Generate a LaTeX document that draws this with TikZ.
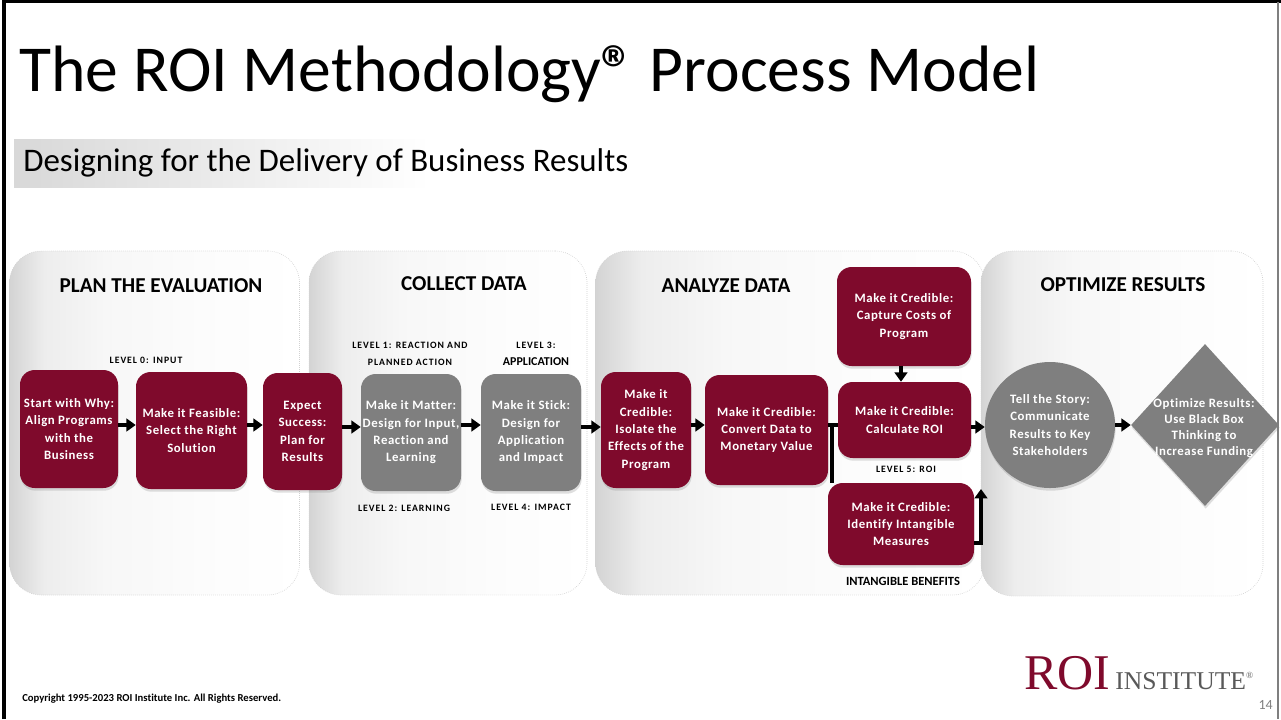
\documentclass[tikz,border=0pt]{standalone}
\usepackage{fontspec}
\setmainfont[Ligatures=CommonOff]{Carlito}
\newfontfamily\logofont{Liberation Serif}
\newfontfamily\boxfont[LetterSpace=4.5,Ligatures=CommonOff]{Carlito}
\newfontfamily\spacedfont[LetterSpace=10,Ligatures=CommonOff]{Carlito}
\usetikzlibrary{arrows.meta,shadows,shapes.geometric}
\definecolor{roired}{HTML}{7F0A2C}
\definecolor{roigray}{HTML}{7F7F7F}
\definecolor{bandgray}{HTML}{D8D8D8}
\pgfdeclarehorizontalshading{panelfade}{100bp}{color(0bp)=(black!17); color(25bp)=(black!17); color(31bp)=(black!7); color(42bp)=(black!3); color(60bp)=(black!1); color(75bp)=(white); color(100bp)=(white)}
\tikzset{
  boxsize/.style 2 args={minimum width=#1*0.75pt,minimum height=#2*0.75pt},
  panel/.style={shade,shading=panelfade,draw=black!18,densely dotted,rounded corners=24pt,line width=0.5pt},
  mbox/.style={inner sep=0pt,align=center,text=white,font=\fontsize{9.6}{13}\selectfont\boxfont\bfseries,drop shadow={shadow xshift=0.5pt,shadow yshift=-2pt,opacity=0.25}},
  redbox/.style={mbox,fill=roired,rounded corners=11pt},
  graybox/.style={mbox,fill=roigray,rounded corners=11pt},
  phase/.style={font=\fontsize{15.9}{18}\selectfont\bfseries},
  level/.style={align=center,font=\fontsize{7.3}{12.6}\selectfont\spacedfont\bfseries},
  arr/.style={line width=3pt,-{Triangle[length=7pt,width=9.5pt]}},
  link/.style={line width=2.6pt}
}
\begin{document}
\begin{tikzpicture}[x=0.75pt,y=-0.75pt]
\useasboundingbox (0,0) rectangle (1281,719);
\def \rowa{425};
\def \rowb{427};
% page edge
\draw[line width=2.4pt] (4,719) -- (4,1.5);
\draw[line width=1.6pt] (2.4,1.5) -- (1281,1.5);
\draw[roigray,line width=1pt] (1278,2) -- (1278,719);
\node[anchor=west,inner sep=0pt,font=\fontsize{49.2}{54}\selectfont] (title) at (19,74) {The ROI Methodology{\bfseries ®} Process Model};
\shade[left color=bandgray,right color=white] (14,139) rectangle (430,187);
\node[anchor=west,inner sep=0pt,font=\fontsize{24.7}{28}\selectfont] (subtitle) at (23,163) {Designing for the Delivery of Business Results};
% panels
\node[panel,boxsize={290}{344}] (plan) at (154.5,423) {};
\node[panel,boxsize={278}{344}] (collect) at (448,423) {};
\node[panel,boxsize={389}{344}] (analyze) at (790,423) {};
\node[panel,boxsize={282}{345}] (optimize) at (1122,423.5) {};
\node[phase] (plantitle) at (161,286) {PLAN THE EVALUATION};
\node[phase] (collecttitle) at (464,284) {COLLECT DATA};
\node[phase] (analyzetitle) at (726,286) {ANALYZE DATA};
\node[phase] (optimizetitle) at (1123,285) {OPTIMIZE RESULTS};
% process boxes
\node[redbox,boxsize={98}{118}] (why) at (69,429) {Start with Why:\\Align Programs\\with the\\Business};
\node[redbox,boxsize={111}{117}] (feasible) at (191.5,430.5) {Make it Feasible:\\Select the Right\\Solution};
\node[redbox,boxsize={79}{117}] (expect) at (302.5,431.5) {Expect\\Success:\\Plan for\\Results};
\node[graybox,boxsize={100}{117}] (matter) at (411,432.5) {Make it Matter:\\Design for Input,\\Reaction and\\Learning};
\node[graybox,boxsize={100}{117}] (stick) at (531,432.5) {Make it Stick:\\Design for\\Application\\and Impact};
\node[redbox,boxsize={90}{116}] (isolate) at (646,430) {Make it\\Credible:\\Isolate the\\Effects of the\\Program};
\node[redbox,boxsize={123}{110}] (convert) at (766.5,430) {Make it Credible:\\Convert Data to\\Monetary Value};
\node[redbox,boxsize={134}{99}] (capture) at (904,316.5) {Make it Credible:\\Capture Costs of\\Program};
\node[redbox,boxsize={133}{76}] (calculate) at (904.5,420) {Make it Credible:\\Calculate ROI};
\node[redbox,boxsize={146}{82}] (intangible) at (901,524) {Make it Credible:\\Identify Intangible\\Measures};
\node[mbox,fill=roigray,ellipse,boxsize={130}{126}] (story) at (1050,425) {Tell the Story:\\Communicate\\Results to Key\\Stakeholders};
\node[mbox,fill=roigray,diamond,boxsize={148}{162},aspect=0.91] (blackbox) at (1205,425) {};
\node[align=center,text=white,font=\fontsize{9.6}{12.2}\selectfont\boxfont\bfseries] (blacktext) at (1204,428) {Optimize Results:\\Use Black Box\\Thinking to\\Increase Funding};
% level labels
\node[level] (levela) at (146,360) {LEVEL 0: INPUT};
\node[level] (levelb) at (410,354) {LEVEL 1: REACTION AND\\PLANNED ACTION};
\node[level] (levelc) at (536,354) {LEVEL 3:\\{\fontsize{9}{12}\selectfont\normalfont\bfseries APPLICATION}};
\node[level] (leveld) at (404,508) {LEVEL 2: LEARNING};
\node[level] (levele) at (531,507) {LEVEL 4: IMPACT};
\node[level] (levelf) at (906,469) {LEVEL 5: ROI};
\node[inner sep=0pt,font=\fontsize{9.4}{12}\selectfont\bfseries] (levelg) at (903,581) {INTANGIBLE BENEFITS};
% connectors
\coordinate (flowa) at (0,\rowa);
\coordinate (flowb) at (0,\rowb);
\coordinate (sideout) at (0,543);
\coordinate (branch) at (832,\rowa);
\coordinate (riser) at (981,543);
\coordinate (riserend) at (981,489);
\draw[arr] (why.east |- flowa) -- (feasible.west |- flowa);
\draw[arr] (feasible.east |- flowa) -- (expect.west |- flowa);
\draw[arr] (expect.east |- flowb) -- (matter.west |- flowb);
\draw[arr] (matter.east |- flowa) -- (stick.west |- flowa);
\draw[arr] (stick.east |- flowb) -- (isolate.west |- flowb);
\draw[arr] (isolate.east |- flowa) -- (convert.west |- flowa);
\draw[link] (convert.east |- flowa) -- (calculate.west |- flowa);
\draw[link] (branch) -- (branch |- intangible.north);
\draw[arr] (capture.south -| 901,0) -- (calculate.north -| 901,0);
\draw[arr] (calculate.east |- flowb) -- (story.west |- flowb);
\draw[arr,line cap=butt] (intangible.east |- sideout) -- (riser) -- (riserend);
\draw[arr] (story.east |- flowa) -- (blackbox.west |- flowa);
% footer
\node[anchor=west,inner sep=0pt,font=\fontsize{8}{10}\selectfont\bfseries] (copyright) at (22,699) {Copyright 1995-2023 ROI Institute Inc. All Rights Reserved.};
\node[anchor=base west,inner sep=0pt,text=roired,font=\fontsize{37.5}{40}\selectfont\logofont] (logoa) at (1024,689) {ROI};
\node[anchor=base west,inner sep=0pt,text=black!65,font=\fontsize{19.2}{22}\selectfont\logofont] (logob) at (1115,689) {INSTITUTE\raisebox{8pt}{\fontsize{7}{8}\selectfont ®}};
\node[anchor=base east,inner sep=0pt,text=black!50,font=\fontsize{10.5}{12}\selectfont] (pageno) at (1273,709) {14};
\end{tikzpicture}
\end{document}
